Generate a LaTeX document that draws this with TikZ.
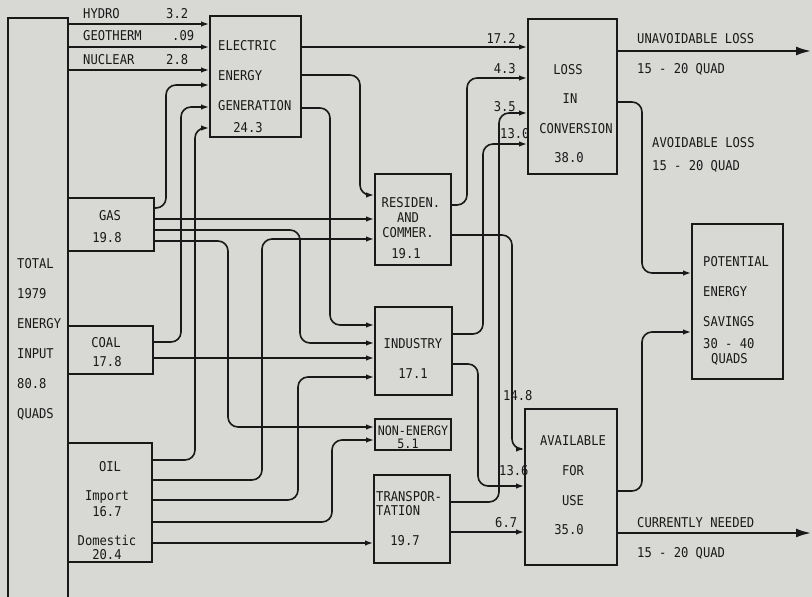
\documentclass[tikz,border=0pt]{standalone}
\usepackage{fontspec}
\newfontfamily\typefont{DejaVu Sans Mono}[FakeStretch=0.9]
\usetikzlibrary{arrows.meta}
\definecolor{paper}{RGB}{216,216,213}
\definecolor{ink}{RGB}{25,25,25}

\begin{document}
\begin{tikzpicture}[x=1pt,y=-1pt,
  box/.style={draw=ink,line width=1.8pt,inner sep=0},
  flow/.style={draw=ink,line width=1.6pt,rounded corners=10pt,-{Latex[length=8pt,width=5.5pt]}},
  outflow/.style={draw=ink,line width=2pt,-{Latex[length=15pt,width=9pt]}},
  lbl/.style={font=\typefont\fontsize{13.5}{16}\selectfont,text=ink,inner sep=0,anchor=base west},
  cl/.style={lbl,anchor=base},
  rl/.style={lbl,anchor=base east}]
  \useasboundingbox (0,0) rectangle (812,597);
  \fill[paper] (0,0) rectangle (812,597);

  % boxes
  \node[box,minimum width=60,minimum height=602] (total) at (38,319) {};
  \node[box,minimum width=91,minimum height=121] (elec) at (255.5,76.5) {};
  \node[box,minimum width=86,minimum height=53] (gas) at (111,224.5) {};
  \node[box,minimum width=85,minimum height=48] (coal) at (110.5,350) {};
  \node[box,minimum width=84,minimum height=119] (oil) at (110,502.5) {};
  \node[box,minimum width=76,minimum height=91] (res) at (413,219.5) {};
  \node[box,minimum width=77,minimum height=88] (ind) at (413.5,351) {};
  \node[box,minimum width=76,minimum height=31] (nonen) at (413,434.5) {};
  \node[box,minimum width=76,minimum height=88] (trans) at (412,519) {};
  \node[box,minimum width=89,minimum height=155] (loss) at (572.5,96.5) {};
  \node[box,minimum width=92,minimum height=156] (avail) at (571,487) {};
  \node[box,minimum width=91,minimum height=155] (pot) at (737.5,301.5) {};
  \coordinate (unav) at (811,51);
  \coordinate (need) at (811,533);

  % box texts
  \foreach \t [count=\i] in {TOTAL,1979,ENERGY,INPUT,80.8,QUADS}
    \node[lbl] (tot\i) at (17,{238+30*\i}) {\t};
  \foreach \t/\y [count=\i] in {ELECTRIC/50,ENERGY/80,GENERATION/110}
    \node[lbl] (el\i) at (218,\y) {\t};
  \node[cl] (el4) at (248,132) {24.3};
  \foreach \t/\v/\x/\y [count=\i] in {HYDRO/3.2/166/18,GEOTHERM/.09/172/40,NUCLEAR/2.8/166/64}{
    \node[lbl] (src\i) at (83,\y) {\t};
    \node[lbl] (val\i) at (\x,\y) {\v};
  }
  \node[cl] (gas1) at (110,220) {GAS};
  \node[cl] (gas2) at (107,242) {19.8};
  \node[cl] (coal1) at (106,347) {COAL};
  \node[cl] (coal2) at (107,366) {17.8};
  \foreach \t/\x/\y [count=\i] in {OIL/110/471,Import/107/500,16.7/107/516,Domestic/107/545,20.4/107/559}
    \node[cl] (oil\i) at (\x,\y) {\t};
  \foreach \t/\x/\y [count=\i] in {RESIDEN./411/207,AND/408/222,COMMER./408/237,19.1/406/258}
    \node[cl] (res\i) at (\x,\y) {\t};
  \node[cl] (ind1) at (413,348) {INDUSTRY};
  \node[cl] (ind2) at (413,378) {17.1};
  \node[cl,font=\typefont\fontsize{13}{15}\selectfont] (non1) at (413,435) {NON-ENERGY};
  \node[cl,font=\typefont\fontsize{13}{15}\selectfont] (non2) at (408,448) {5.1};
  \node[lbl] (tr1) at (376,501) {TRANSPOR-};
  \node[lbl] (tr2) at (376,515) {TATION};
  \node[cl] (tr3) at (405,545) {19.7};
  \foreach \t/\x/\y [count=\i] in {LOSS/568/74,IN/570/103,CONVERSION/576/133,38.0/569/162}
    \node[cl] (loss\i) at (\x,\y) {\t};
  \foreach \t/\x/\y [count=\i] in {AVAILABLE/573/445,FOR/573/475,USE/573/505,35.0/569/534}
    \node[cl] (av\i) at (\x,\y) {\t};
  \foreach \t/\x/\y [count=\i] in {POTENTIAL/703/266,ENERGY/703/296,SAVINGS/703/326,30 - 40/703/348,QUADS/711/363}
    \node[lbl] (pot\i) at (\x,\y) {\t};

  % sources -> electric generation
  \draw[flow] (total.east |- 0,24) -- (elec.west |- 0,24);
  \draw[flow] (total.east |- 0,47) -- (elec.west |- 0,47);
  \draw[flow] (total.east |- 0,70) -- (elec.west |- 0,70);
  \draw[flow] (gas.east |- 0,208) -| (166,85) -- (elec.west |- 0,85);
  \draw[flow] (coal.east |- 0,342) -| (181,107) -- (elec.west |- 0,107);
  \draw[flow] (oil.east |- 0,460) -| (195,128) -- (elec.west |- 0,128);

  % electric generation -> sectors
  \draw[flow] (elec.east |- 0,47) -- (loss.west |- 0,47);
  \draw[flow] (elec.east |- 0,75) -| (360,195) -- (res.west |- 0,195);
  \draw[flow] (elec.east |- 0,108) -| (330,325) -- (ind.west |- 0,325);

  % fuels -> sectors
  \draw[flow] (gas.east |- 0,219) -- (res.west |- 0,219);
  \draw[flow] (gas.east |- 0,230) -| (300,343) -- (ind.west |- 0,343);
  \draw[flow] (gas.east |- 0,241) -| (228,427) -- (nonen.west |- 0,427);
  \draw[flow] (coal.east |- 0,358) -- (ind.west |- 0,358);
  \draw[flow] (oil.east |- 0,480) -| (262,239) -- (res.west |- 0,239);
  \draw[flow] (oil.east |- 0,500) -| (298,377) -- (ind.west |- 0,377);
  \draw[flow] (oil.east |- 0,522) -| (332,440) -- (nonen.west |- 0,440);
  \draw[flow] (oil.east |- 0,543) -- (trans.west |- 0,543);

  % sectors -> loss / available
  \draw[flow] (res.east |- 0,205) -| (467,78) -- (loss.west |- 0,78);
  \draw[flow] (res.east |- 0,235) -| (512,449) -- (avail.west |- 0,449);
  \draw[flow] (ind.east |- 0,334) -| (483,144) -- (loss.west |- 0,144);
  \draw[flow] (ind.east |- 0,364) -| (478,486) -- (avail.west |- 0,486);
  \draw[flow] (trans.east |- 0,502) -| (499,113) -- (loss.west |- 0,113);
  \draw[flow] (trans.east |- 0,532) -- (avail.west |- 0,532);
  \node[rl] (f1) at (516,43) {17.2};
  \node[rl] (f2) at (516,73) {4.3};
  \node[rl] (f3) at (516,111) {3.5};
  \node[lbl] (f4) at (500,138) {13.0};
  \node[lbl] (f5) at (503,400) {14.8};
  \node[lbl] (f6) at (499,475) {13.6};
  \node[lbl] (f7) at (495,527) {6.7};

  % results
  \draw[outflow] (loss.east |- unav) -- (unav);
  \draw[flow] (loss.east |- 0,102) -| (642,273) -- (pot.west |- 0,273);
  \draw[flow] (avail.east |- 0,491) -| (642,332) -- (pot.west |- 0,332);
  \draw[outflow] (avail.east |- need) -- (need);
  \node[lbl] (r1) at (637,43) {UNAVOIDABLE LOSS};
  \node[lbl] (r2) at (637,73) {15 - 20 QUAD};
  \node[lbl] (r3) at (652,147) {AVOIDABLE LOSS};
  \node[lbl] (r4) at (652,170) {15 - 20 QUAD};
  \node[lbl] (r5) at (637,527) {CURRENTLY NEEDED};
  \node[lbl] (r6) at (637,557) {15 - 20 QUAD};
\end{tikzpicture}
\end{document}
